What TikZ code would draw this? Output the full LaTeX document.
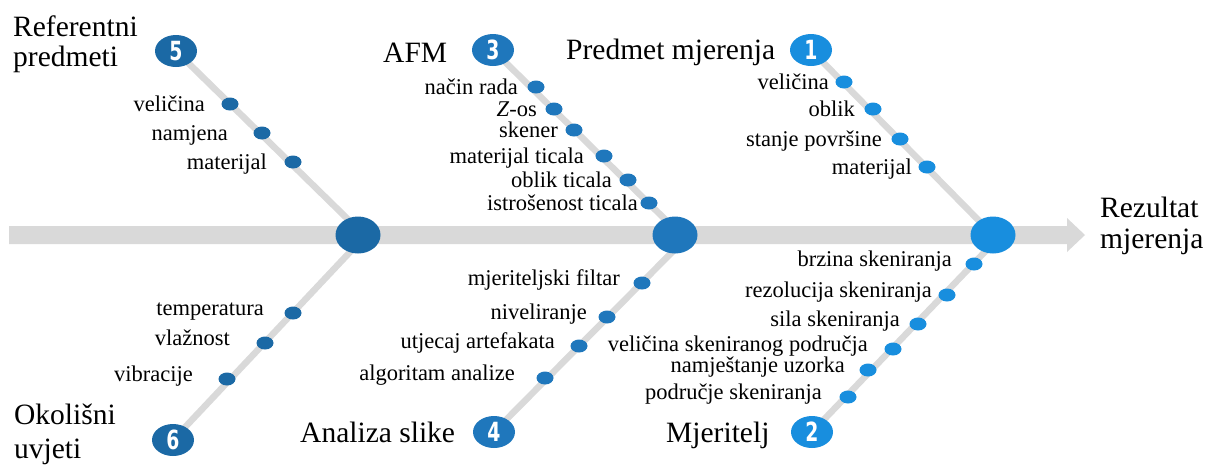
\documentclass[tikz,border=0pt]{standalone}
\usepackage{fontspec}
\setmainfont{Liberation Serif}
\newfontfamily\numfont{DejaVu Sans Condensed}
\usetikzlibrary{shapes.geometric,backgrounds}

\definecolor{fishdark}{HTML}{1B69A5}
\definecolor{fishmid}{HTML}{1F77BC}
\definecolor{fishlight}{HTML}{188EDE}
\definecolor{fishbone}{HTML}{D9D9D9}

\newcommand{\causenum}[1]{\scalebox{0.95}[1.2]{#1}}

\begin{document}
\begin{tikzpicture}[x=1pt,y=-1pt,
  bone/.style={draw=fishbone,line width=6.5pt},
  hub/.style={ellipse,inner sep=0pt,minimum width=45pt,minimum height=37pt},
  cause/.style={ellipse,inner sep=0pt,minimum width=42pt,minimum height=32pt,text=white,
    font=\numfont\bfseries\fontsize{22}{22}\selectfont},
  dot/.style={ellipse,inner sep=0pt,minimum width=17pt,minimum height=13pt},
  item/.style={inner sep=0pt,font=\fontsize{22.5}{27}\selectfont},
  title/.style={inner sep=0pt,align=left,font=\fontsize{29.5}{30}\selectfont}]
  \useasboundingbox (0,0) rectangle (1214,467);

  % hubs on the spine
  \node[hub,fill=fishdark] (h1) at (358,235) {};
  \node[hub,fill=fishmid] (h2) at (675,235) {};
  \node[hub,fill=fishlight] (h3) at (993,235) {};

  % numbered causes
  \node[cause,fill=fishlight] (c1) at (811,50) {\causenum{1}};
  \node[cause,fill=fishlight] (c2) at (812,432) {\causenum{2}};
  \node[cause,fill=fishmid] (c3) at (493,50) {\causenum{3}};
  \node[cause,fill=fishmid] (c4) at (494,432) {\causenum{4}};
  \node[cause,fill=fishdark] (c5) at (176,51) {\causenum{5}};
  \node[cause,fill=fishdark] (c6) at (173,440) {\causenum{6}};

  \begin{scope}[on background layer]
    \fill[fishbone] (9,226) -- (1067,226) -- (1067,218) -- (1085,235)
      -- (1067,252) -- (1067,244) -- (9,244) -- cycle;
    \draw[bone] (c1.center) -- (h3.center);
    \draw[bone] (c2.center) -- ([xshift=8pt]h3.center);
    \draw[bone] (c3.center) -- ([xshift=6pt]h2.center);
    \draw[bone] (c4.center) -- ([xshift=14pt]h2.center);
    \draw[bone] (c5.center) -- ([xshift=6pt]h1.center);
    \draw[bone] (c6.center) -- ([xshift=8pt]h1.center);
  \end{scope}

  % titles (base = last line)
  \node[title,anchor=base west] (t1) at (566,59) {Predmet mjerenja};
  \node[title,anchor=base west] (t2) at (666,442) {Mjeritelj};
  \node[title,anchor=base west] (t3) at (383,62) {AFM};
  \node[title,anchor=base west] (t4) at (300,442) {Analiza slike};
  \node[title,anchor=base west] (t5) at (13,66) {Referentni\\predmeti};
  \node[title,anchor=base west] (t6) at (14,458) {Okolišni\\[4pt]uvjeti};
  \node[title,anchor=base west] (res) at (1100,248) {Rezultat\\[1pt]mjerenja};

  % upper bones
  \foreach \x/\y/\r/\t [count=\n] in {844/82/829/veličina, 873/109/855/oblik,
      900/139/882/stanje površine, 927/167/912/materijal}{
    \node[dot,fill=fishlight] (d1\n) at (\x,\y) {};
    \node[item,anchor=base east,yshift=-7.5pt] (l1\n) at (\r,\y) {\t};
  }
  \foreach \x/\y/\r/\t [count=\n] in {536/87/518/način rada, 554/109/537/\textit{Z}-os,
      574/130/558/skener, 604/156/584/materijal ticala, 628/180/612/oblik ticala,
      649/203/638/istrošenost ticala}{
    \node[dot,fill=fishmid] (d3\n) at (\x,\y) {};
    \node[item,anchor=base east,yshift=-7.5pt] (l3\n) at (\r,\y) {\t};
  }
  \foreach \x/\y/\r/\t [count=\n] in {230/104/205/veličina, 262/133/228/namjena,
      293/162/267/materijal}{
    \node[dot,fill=fishdark] (d5\n) at (\x,\y) {};
    \node[item,anchor=base east,yshift=-7.5pt] (l5\n) at (\r,\y) {\t};
  }

  % lower bones
  \foreach \x/\y/\r/\t [count=\n] in {974/264/952/brzina skeniranja,
      947/295/932/rezolucija skeniranja, 918/324/900/sila skeniranja,
      893/349/868/veličina skeniranog područja, 868/370/845/namještanje uzorka,
      848/397/822/područje skeniranja}{
    \node[dot,fill=fishlight] (d2\n) at (\x,\y) {};
    \node[item,anchor=base east,yshift=-2.5pt] (l2\n) at (\r,\y) {\t};
  }
  \foreach \x/\y/\r/\t [count=\n] in {642/283/620/mjeriteljski filtar,
      607/317/587/niveliranje, 579/346/555/utjecaj artefakata,
      545/378/515/algoritam analize}{
    \node[dot,fill=fishmid] (d4\n) at (\x,\y) {};
    \node[item,anchor=base east,yshift=-2.5pt] (l4\n) at (\r,\y) {\t};
  }
  \foreach \x/\y/\r/\t [count=\n] in {293/313/264/temperatura, 265/343/230/vlažnost,
      227/379/193/vibracije}{
    \node[dot,fill=fishdark] (d6\n) at (\x,\y) {};
    \node[item,anchor=base east,yshift=-2.5pt] (l6\n) at (\r,\y) {\t};
  }
\end{tikzpicture}
\end{document}
